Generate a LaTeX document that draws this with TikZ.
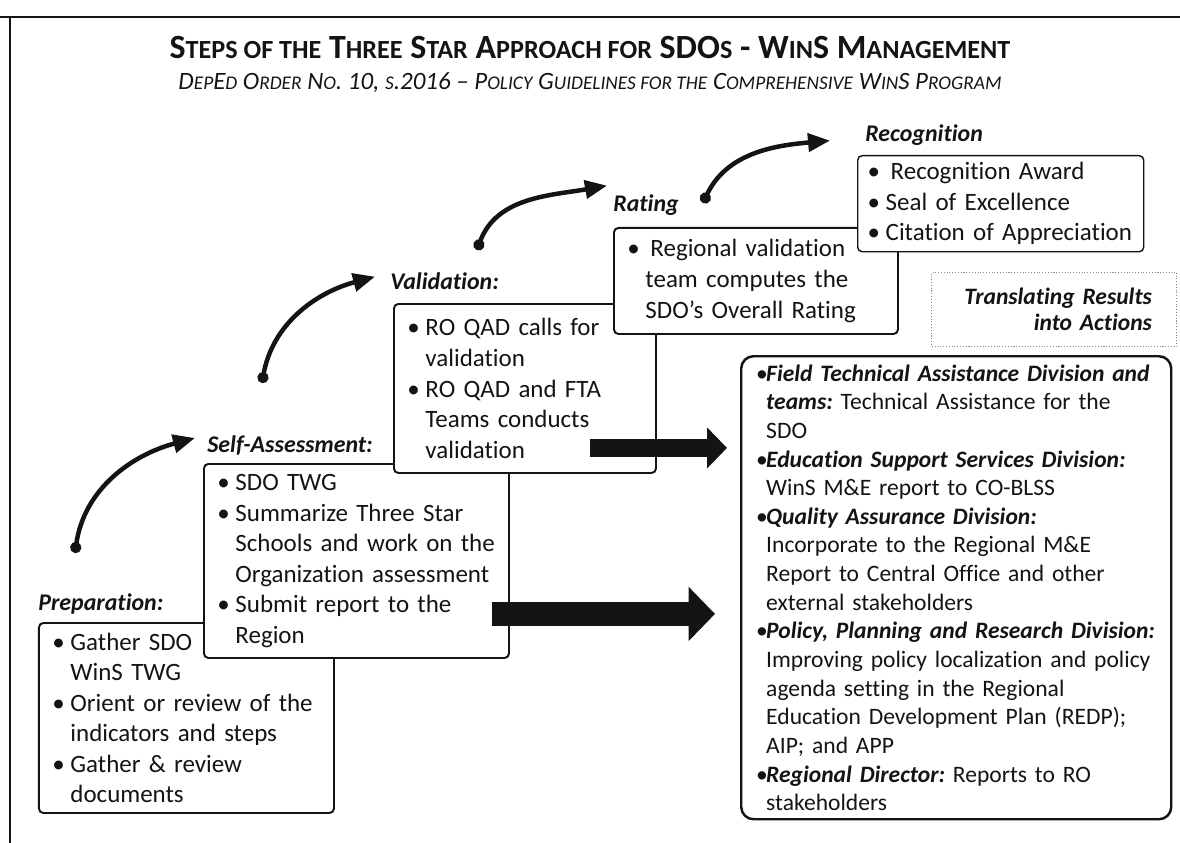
\documentclass[tikz,border=0pt]{standalone}
\usepackage{fontspec}
\setmainfont{Carlito}[Ligatures={TeX,NoCommon}]
\usetikzlibrary{arrows.meta,positioning,calc}
\definecolor{ink}{HTML}{141414}
\definecolor{thinline}{HTML}{8C8C8C}
% faked small capitals for the two heading lines
\newcommand\tsc[1]{{\fontsize{14.9}{16}\selectfont #1}}
\newcommand\ssc[1]{{\fontsize{11}{12}\selectfont #1}}
\newcommand\stepbul{\makebox[0.36cm][l]{\textbullet}}
\newcommand\stepind{\hspace*{0.36cm}}
\newcommand\actbul{\makebox[0.2cm][l]{\textbullet}}
\newcommand\actind{\hspace*{0.2cm}}
\newcommand\hd[1]{\textbf{\textit{#1}}}

\begin{document}
\begin{tikzpicture}[font=\fontsize{14.2}{17.4}\selectfont, color=ink,
  box/.style={draw=ink, line width=1.1pt, fill=white, rounded corners=2.5pt, anchor=north west, align=left, inner xsep=0.27cm, inner ysep=0pt},
  lbl/.style={font=\fontsize{13.6}{16}\selectfont\bfseries\itshape, inner sep=0pt, anchor=base west},
  bigarr/.style={draw=ink, line width=#1, -{Triangle[length=0pt 1.1, width=0pt 2.2]}},
  curv/.style={draw=ink, line width=0.9mm, line cap=round, {Circle[length=2.2mm]}-{Triangle[length=4.4mm,width=3.6mm]}}]
\useasboundingbox (0,0) rectangle (23.6,-16.86);
\draw[line width=1.6pt] (0,-0.34) -- (23.6,-0.34);
\draw[line width=1.1pt] (0.2,-0.34) -- (0.2,-16.86);

\node[font=\fontsize{19.3}{22}\selectfont\bfseries, anchor=base] (title) at (11.8,-1.18) {S\tsc{TEPS OF THE} T\tsc{HREE} S\tsc{TAR} A\tsc{PPROACH FOR} SDO\tsc{S} - W\tsc{IN}S M\tsc{ANAGEMENT}};
\node[font=\fontsize{14.2}{16}\selectfont\itshape, anchor=base] (subtitle) at (11.8,-1.8) {D\ssc{EP}E\ssc{D} O\ssc{RDER} N\ssc{O}. 10, \ssc{S}.2016 – P\ssc{OLICY} G\ssc{UIDELINES FOR THE} C\ssc{OMPREHENSIVE} W\ssc{IN}S P\ssc{ROGRAM}};

\node[box, minimum width=5.9cm, text width=5.36cm, minimum height=3.8cm] (prep) at (0.76,-12.44) {\stepbul Gather SDO\\\stepind WinS TWG\\\stepbul Orient or review of the\\\stepind indicators and steps\\\stepbul Gather \& review\\\stepind documents};
\node[box, minimum width=6.1cm, text width=5.56cm, minimum height=3.88cm] (self) at (4.06,-9.26) {\stepbul SDO TWG\\\stepbul Summarize Three Star\\\stepind Schools and work on the\\\stepind Organization assessment\\\stepbul Submit report to the\\\stepind Region};
\node[box, minimum width=5.24cm, text width=4.7cm, minimum height=3.38cm] (val) at (7.86,-6.06) {\stepbul RO QAD calls for\\\stepind validation\\\stepbul RO QAD and FTA\\\stepind Teams conducts\\\stepind validation};
\node[box, minimum width=5.68cm, text width=5.14cm, minimum height=2.12cm] (rate) at (12.26,-4.54) {\stepbul\hspace{0.1cm}Regional validation\\\stepind team computes the\\\stepind SDO's Overall Rating};
\node[box, line width=0.8pt, minimum width=5.72cm, text width=5.32cm, inner xsep=0.2cm, minimum height=1.92cm] (rec) at (17.14,-3.1) {\stepbul\hspace{0.1cm}Recognition Award\\\stepbul Seal of Excellence\\\stepbul Citation of Appreciation};
\node[box, line width=1.4pt, rounded corners=7pt, minimum width=8.6cm, text width=8.0cm, minimum height=9.26cm, inner xsep=0.3cm, font=\fontsize{13.4}{16.3}\selectfont] (act) at (14.8,-7.1) {\actbul\hd{Field Technical Assistance Division and}\\\actind\hd{teams:}\ Technical Assistance for the\\\actind SDO\\\actbul\hd{Education Support Services Division:}\\\actind WinS M\&E report to CO-BLSS\\\actbul\hd{Quality Assurance Division:}\\\actind Incorporate to the Regional M\&E\\\actind Report to Central Office and other\\\actind external stakeholders\\\actbul\hd{Policy, Planning and Research Division:}\\\actind Improving policy localization and policy\\\actind agenda setting in the Regional\\\actind Education Development Plan (REDP);\\\actind AIP; and APP\\\actbul\hd{Regional Director:}\ Reports to RO\\\actind stakeholders};
\node[draw=thinline, densely dotted, line width=0.6pt, fill=white, align=right, text width=3.9cm, minimum width=4.9cm, minimum height=1.48cm, inner xsep=0.5cm, inner ysep=0pt, font=\fontsize{13.4}{14.8}\selectfont\bfseries\itshape, above left=0.16cm and -0.1cm of act.north east] (trans) {Translating Results\\into Actions};

\node[lbl] (prepl) at ([yshift=0.24cm]prep.north west) {Preparation:};
\node[lbl] (selfl) at ([xshift=0.08cm,yshift=0.22cm]self.north west) {Self-Assessment:};
\node[lbl] (vall) at ([xshift=-0.06cm,yshift=0.28cm]val.north west) {Validation:};
\node[lbl] (ratel) at ([yshift=0.3cm]rate.north west) {Rating};
\node[lbl] (recl) at ([xshift=0.16cm,yshift=0.26cm]rec.north west) {Recognition};

\coordinate (prept) at (1.5,-11.06);
\coordinate (selft) at (5.24,-7.66);
\coordinate (valt) at (9.54,-5.0);
\coordinate (ratet) at (14.06,-4.06);
\draw[curv] (prept) to[out=82,in=195] ([shift={(-0.24,0.14)}]selfl.west);
\draw[curv] (selft) to[out=80,in=195] ([shift={(-0.3,0.08)}]vall.west);
\draw[curv] (valt) to[out=70,in=190] ([shift={(-0.12,0.4)}]ratel.west);
\draw[curv] (ratet) to[out=65,in=185] ([shift={(-0.7,-0.1)}]recl.west);

\draw[bigarr=0.36cm] ([shift={(-1.34,0.52)}]val.south east) coordinate (vs) -- ($(vs -| act.west)+(-0.26,0)$);
\draw[bigarr=0.48cm] ([shift={(-0.36,0.9)}]self.south east) coordinate (ss) -- ($(ss -| act.west)+(-0.5,0)$);
\end{tikzpicture}
\end{document}
